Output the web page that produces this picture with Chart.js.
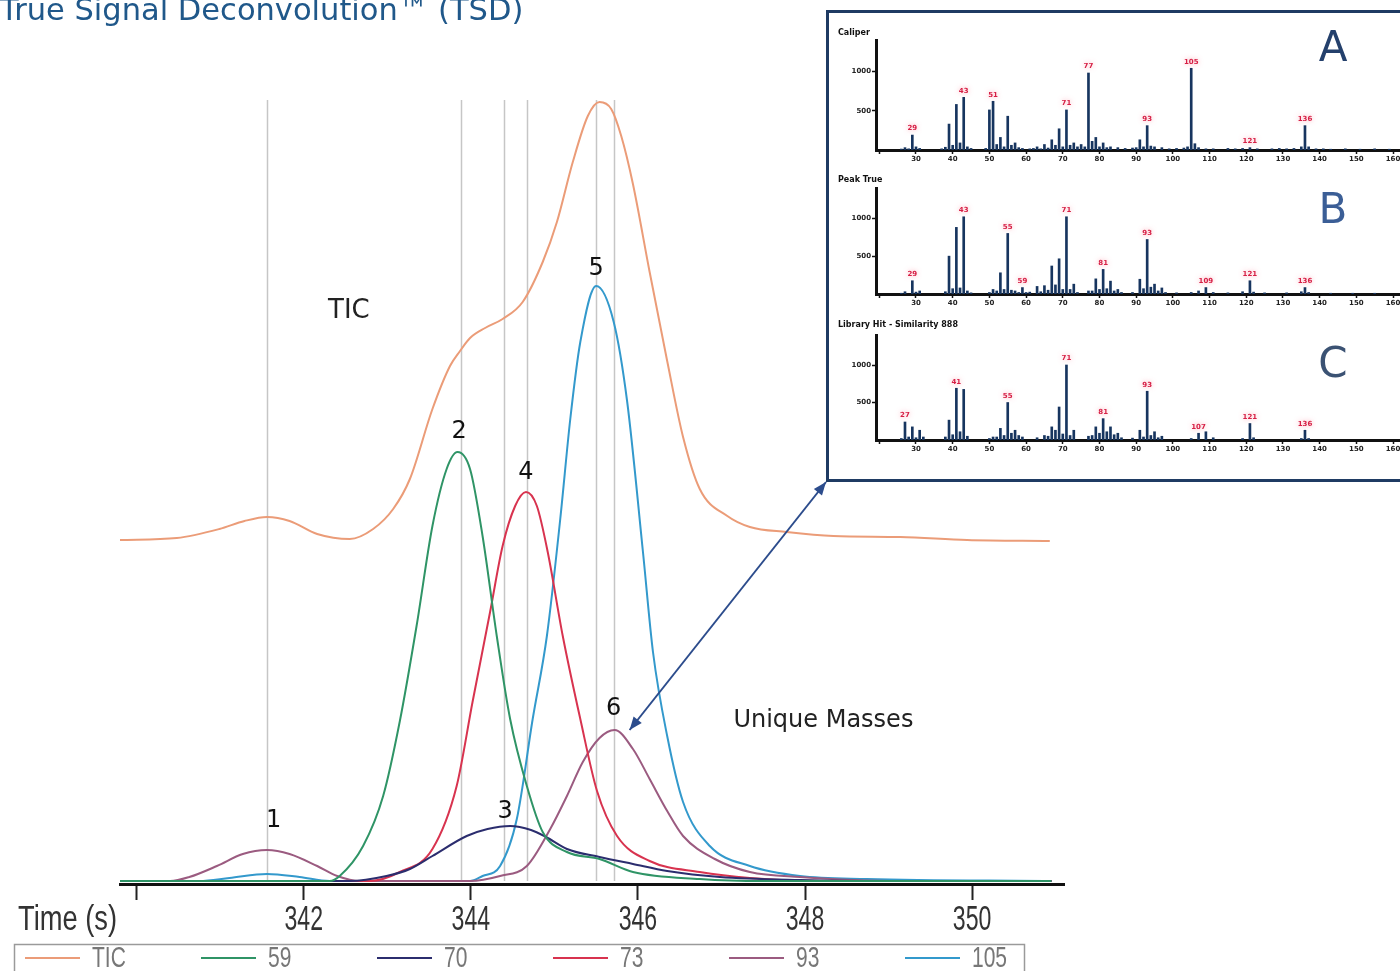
<!DOCTYPE html>
<html>
<head>
<meta charset="utf-8">
<script src="https://cdn.jsdelivr.net/npm/chart.js@4.4.0/dist/chart.umd.min.js"></script>
<style>
  html, body { margin: 0; padding: 0; background: #fff; overflow: hidden; width: 1400px; height: 971px; }
  #main { position: absolute; left: 0; top: 0; }
  #inset { position: absolute; left: 826px; top: 10px; width: 620px; height: 466px; border: 3px solid #1f3b63; background: #fff; z-index: 2; }
  #inset canvas { position: absolute; left: 0; }
</style>
</head>
<body>
<canvas id="main" width="1400" height="971"></canvas>
<div id="inset">
  <canvas id="specA" width="600" height="145" style="top:9px"></canvas>
  <canvas id="specB" width="600" height="141" style="top:157px"></canvas>
  <canvas id="specC" width="600" height="140" style="top:304px"></canvas>
</div>
<script>
// ---- main chromatogram: [time (s), intensity] ----
const seriesNames = ['TIC', '59', '70', '73', '93', '105'];
const seriesColors = ['#eb9c78', '#2f9466', '#2b2d6e', '#d8334f', '#9b5b80', '#3399cc'];

const ticSeries = [[339.80,341],[340.48,343],[340.99,352],[341.29,360],[341.56,364],[341.83,360],[342.16,347],[342.55,342],[342.83,352],[343.07,372],[343.27,402],[343.54,472],[343.75,515],[343.87,530],[343.99,543],[344.17,553],[344.38,562],[344.62,579],[344.86,619],[345.03,659],[345.22,719],[345.40,765],[345.54,779],[345.68,772],[345.80,745],[345.94,697],[346.14,609],[346.35,520],[346.54,444],[346.74,392],[347.07,365],[347.34,354],[347.78,349],[348.34,345],[349.14,344],[349.94,341],[350.93,340]];
const mass59 = [[339.80,0],[342.31,0],[342.43,5],[342.71,35],[342.95,85],[343.15,160],[343.35,255],[343.54,355],[343.71,412],[343.84,429],[343.99,412],[344.14,345],[344.31,245],[344.47,162],[344.67,95],[344.86,49],[345.15,29],[345.54,22],[345.94,9],[346.74,2],[347.50,0],[350.95,0]];
const mass70 = [[339.80,0],[342.55,0],[342.99,5],[343.27,12],[343.54,25],[343.95,45],[344.20,52],[344.47,55],[344.72,51],[344.90,44],[345.15,32],[345.54,24],[345.94,17],[346.35,10],[346.98,4],[347.94,1],[349.00,0],[350.95,0]];
const mass73 = [[339.80,0],[342.79,0],[343.15,9],[343.54,32],[343.83,95],[344.02,179],[344.23,269],[344.38,335],[344.53,375],[344.66,389],[344.79,375],[344.92,329],[345.10,245],[345.31,162],[345.51,90],[345.75,45],[346.14,20],[346.74,9],[347.34,3],[348.18,0],[350.95,0]];
const mass93 = [[339.80,0],[340.40,0],[340.63,4],[340.96,15],[341.27,27],[341.56,31],[341.83,27],[342.16,15],[342.40,5],[342.67,0],[343.99,0],[344.35,5],[344.67,15],[344.95,52],[345.15,85],[345.34,119],[345.54,143],[345.72,151],[345.94,132],[346.14,102],[346.35,70],[346.54,45],[346.92,22],[347.34,9],[347.94,4],[349.14,0],[350.95,0]];
const mass105 = [[339.80,0],[340.75,0],[341.11,3],[341.56,7],[341.95,4],[342.31,0],[343.99,0],[344.14,5],[344.35,15],[344.55,62],[344.74,162],[344.91,245],[345.07,362],[345.19,462],[345.31,539],[345.50,595],[345.71,559],[345.87,480],[346.06,329],[346.18,229],[346.35,145],[346.54,79],[346.86,35],[347.34,15],[347.94,5],[348.74,2],[350.93,0]];

const timeTickLabels = { 340: '', 342: '342', 344: '344', 346: '346', 348: '348', 350: '350' };
const peakTimes = [341.56, 343.88, 344.40, 344.67, 345.50, 345.71];
const peakNumbers = ['1', '2', '3', '4', '5', '6'];
const peakNumberAt = [[341.64,60],[343.86,449],[344.41,69],[344.66,408],[345.50,612],[345.71,172]];
const arrowFrom = [345.90, 151];

// ---- inset mass spectra: [m/z, intensity] ----
const specYTicks = [500, 1000];
const caliperPeaks = [[26,12],[27,30],[28,15],[29,190],[30,40],[31,20],[37,15],[38,35],[39,330],[40,60],[41,580],[42,90],[43,670],[44,40],[45,20],[49,20],[50,510],[51,620],[52,70],[53,160],[54,40],[55,430],[56,60],[57,90],[58,30],[59,20],[61,15],[62,20],[63,40],[64,15],[65,70],[66,25],[67,130],[68,60],[69,270],[70,40],[71,510],[72,60],[73,90],[74,40],[75,70],[76,40],[77,980],[78,110],[79,160],[80,40],[81,90],[82,30],[83,40],[85,30],[87,20],[89,25],[90,30],[91,130],[92,40],[93,310],[94,50],[95,40],[97,30],[99,15],[101,20],[103,25],[104,40],[105,1040],[106,80],[107,30],[109,15],[111,15],[115,20],[117,15],[119,20],[121,30],[123,15],[127,15],[129,20],[131,15],[133,20],[135,40],[136,310],[137,40],[139,15],[141,15],[143,10],[147,15],[151,10],[155,15],[159,10],[163,10]];
const peakTruePeaks = [[26,10],[27,30],[29,175],[30,25],[31,40],[38,30],[39,500],[40,70],[41,880],[42,80],[43,1020],[44,40],[45,15],[50,20],[51,60],[52,40],[53,280],[54,60],[55,800],[56,50],[57,40],[58,20],[59,85],[60,20],[61,25],[63,100],[64,30],[65,110],[66,50],[67,370],[68,120],[69,465],[70,60],[71,1020],[72,60],[73,130],[74,20],[77,40],[78,40],[79,200],[80,60],[81,325],[82,70],[83,170],[84,40],[85,60],[86,20],[89,20],[91,195],[92,70],[93,720],[94,90],[95,130],[96,40],[97,80],[98,20],[101,15],[105,20],[107,40],[109,85],[111,20],[115,15],[119,30],[121,175],[122,25],[125,15],[131,15],[135,30],[136,85],[137,20],[143,10],[149,10],[155,10]];
const libraryPeaks = [[26,20],[27,240],[28,40],[29,175],[30,30],[31,130],[32,40],[38,40],[39,265],[40,70],[41,690],[42,110],[43,675],[44,50],[50,20],[51,40],[52,40],[53,155],[54,60],[55,500],[56,90],[57,130],[58,60],[59,40],[63,30],[65,60],[66,50],[67,175],[68,130],[69,440],[70,80],[71,1000],[72,60],[73,130],[77,50],[78,60],[79,175],[80,90],[81,285],[82,110],[83,175],[84,70],[85,90],[86,30],[89,25],[91,130],[92,40],[93,650],[94,60],[95,110],[96,30],[97,50],[105,20],[107,90],[109,110],[111,30],[119,20],[121,220],[122,30],[135,20],[136,130],[137,20]];
const caliperLabels = [29, 43, 51, 71, 77, 93, 105, 121, 136];
const peakTrueLabels = [29, 43, 55, 59, 71, 81, 93, 109, 121, 136];
const libraryLabels = [27, 41, 55, 71, 81, 93, 107, 121, 136];

function narrowText(ctx, text, x, y, sx, align) {
    ctx.save();
    ctx.translate(x, y);
    ctx.scale(sx, 1);
    ctx.textAlign = align;
    ctx.fillText(text, 0, 0);
    ctx.restore();
}

function arrowHead(ctx, fx, fy, tx, ty) {
    const a = Math.atan2(ty - fy, tx - fx);
    ctx.beginPath();
    ctx.moveTo(tx, ty);
    ctx.lineTo(tx - 14 * Math.cos(a - 0.38), ty - 14 * Math.sin(a - 0.38));
    ctx.lineTo(tx - 14 * Math.cos(a + 0.38), ty - 14 * Math.sin(a + 0.38));
    ctx.closePath();
    ctx.fill();
}

const allSeries = [ticSeries, mass59, mass70, mass73, mass93, mass105];

const mainDecor = {
    id: 'mainDecor',
    beforeDatasetsDraw(chart) {
        const { ctx, scales: { x, y }, chartArea } = chart;
        ctx.save();
        ctx.strokeStyle = '#c6c6c6';
        ctx.lineWidth = 1.5;
        peakTimes.forEach(t => {
            const px = Math.round(x.getPixelForValue(t)) + 0.5;
            ctx.beginPath();
            ctx.moveTo(px, chartArea.top);
            ctx.lineTo(px, y.getPixelForValue(0));
            ctx.stroke();
        });
        ctx.restore();
    },
    afterDraw(chart) {
        const { ctx, scales: { x, y } } = chart;
        ctx.save();

        // title (clipped at the top edge, as in the source)
        ctx.fillStyle = '#20588a';
        ctx.font = '30.5px "DejaVu Sans", sans-serif';
        ctx.textBaseline = 'alphabetic';
        ctx.textAlign = 'left';
        ctx.fillText('True Signal Deconvolution\u2122 (TSD)', 0, 20);

        // peak numbers
        ctx.fillStyle = '#111';
        ctx.font = '24px "DejaVu Sans", sans-serif';
        ctx.textBaseline = 'middle';
        ctx.textAlign = 'center';
        peakNumbers.forEach((n, i) => {
            ctx.fillText(n, x.getPixelForValue(peakNumberAt[i][0]), y.getPixelForValue(peakNumberAt[i][1]));
        });
        ctx.fillStyle = '#222';
        ctx.font = '26px "DejaVu Sans", sans-serif';
        ctx.fillText('TIC', x.getPixelForValue(342.54), y.getPixelForValue(570));
        ctx.font = '24px "DejaVu Sans", sans-serif';
        ctx.fillText('Unique Masses', x.getPixelForValue(348.22), y.getPixelForValue(160));

        // axis tick labels
        ctx.fillStyle = '#333';
        ctx.font = '35px "Liberation Sans", sans-serif';
        x.ticks.forEach(t => {
            const lbl = timeTickLabels[t.value];
            if (lbl) narrowText(ctx, lbl, x.getPixelForValue(t.value), 920, 0.66, 'center');
        });
        narrowText(ctx, 'Time (s)', 18, 920, 0.78, 'left');

        // legend
        ctx.strokeStyle = '#9a9a9a';
        ctx.lineWidth = 1.5;
        ctx.strokeRect(14.5, 944.5, 1010, 40);
        ctx.font = '30px "Liberation Sans", sans-serif';
        seriesNames.forEach((name, i) => {
            const x0 = 25 + i * 176;
            ctx.strokeStyle = seriesColors[i];
            ctx.lineWidth = 2;
            ctx.beginPath();
            ctx.moveTo(x0, 958);
            ctx.lineTo(x0 + 55, 958);
            ctx.stroke();
            ctx.fillStyle = '#777';
            narrowText(ctx, name, x0 + 67, 959, 0.7, 'left');
        });

        // arrow to the inset
        const box = document.getElementById('inset').getBoundingClientRect();
        const ax = x.getPixelForValue(arrowFrom[0]), ay = y.getPixelForValue(arrowFrom[1]);
        const bx = box.left, by = box.bottom;
        ctx.strokeStyle = '#2c4c8c';
        ctx.fillStyle = '#2c4c8c';
        ctx.lineWidth = 2;
        ctx.beginPath();
        ctx.moveTo(ax, ay);
        ctx.lineTo(bx, by);
        ctx.stroke();
        arrowHead(ctx, bx, by, ax, ay);
        arrowHead(ctx, ax, ay, bx, by);
        ctx.restore();
    }
};

new Chart(document.getElementById('main').getContext('2d'), {
    type: 'line',
    data: {
        datasets: seriesNames.map((name, i) => ({
            label: name,
            data: allSeries[i].map(p => ({ x: p[0], y: p[1] })),
            borderColor: seriesColors[i],
            borderWidth: 2,
            pointRadius: 0,
            fill: false,
            cubicInterpolationMode: 'monotone'
        }))
    },
    options: {
        responsive: false,
        animation: false,
        layout: { padding: { left: 120, right: 336, top: 100, bottom: 0 } },
        plugins: { legend: { display: false }, tooltip: { enabled: false } },
        scales: {
            x: {
                type: 'linear', min: 339.8, max: 351.1,
                grid: { drawOnChartArea: false, tickLength: 16, tickColor: '#222', tickWidth: 2 },
                border: { color: '#111', width: 3 },
                ticks: { stepSize: 2, includeBounds: false, display: false },
                afterFit(s) { s.height = 87; }
            },
            y: { display: false, min: -3, max: 781 }
        }
    },
    plugins: [mainDecor]
});

function makeSpectrum(id, peaks, marked, title, titleY, letter, letterY, letterColor) {
    const specText = {
        id: 'specText',
        afterDraw(chart) {
            const { ctx, scales: { x, y } } = chart;
            ctx.save();
            ctx.fillStyle = '#111';
            ctx.font = 'bold 8px "DejaVu Sans", sans-serif';
            ctx.textAlign = 'left';
            ctx.textBaseline = 'middle';
            ctx.fillText(title, 9, titleY);

            ctx.fillStyle = letterColor;
            ctx.font = '42px "DejaVu Sans", sans-serif';
            ctx.textAlign = 'center';
            ctx.fillText(letter, 504, letterY);

            ctx.font = 'bold 7px "DejaVu Sans", sans-serif';
            ctx.textBaseline = 'bottom';
            ctx.fillStyle = '#d61f45';
            ctx.shadowColor = 'rgba(255,120,140,0.7)';
            ctx.shadowBlur = 5;
            marked.forEach(m => {
                const p = peaks.find(q => q[0] === m);
                if (!p) return;
                ctx.fillText(String(m), x.getPixelForValue(m), y.getPixelForValue(p[1]) - 3);
            });
            ctx.restore();
        }
    };
    new Chart(document.getElementById(id).getContext('2d'), {
        type: 'bar',
        data: {
            datasets: [{
                data: peaks.map(p => ({ x: p[0], y: p[1] })),
                backgroundColor: '#17355f',
                barThickness: 2
            }]
        },
        options: {
            responsive: false,
            animation: false,
            layout: { padding: { top: 18, left: 0, right: 0, bottom: 0 } },
            plugins: { legend: { display: false }, tooltip: { enabled: false } },
            scales: {
                x: {
                    type: 'linear', min: 19.1, max: 169.8, offset: false,
                    grid: { drawOnChartArea: false, offset: false, tickLength: 4, tickColor: '#111', tickWidth: 1.5 },
                    border: { color: '#111', width: 3 },
                    ticks: {
                        stepSize: 10, includeBounds: false, autoSkip: false, maxRotation: 0, padding: 1,
                        color: '#222', font: { size: 7, weight: 'bold', family: 'DejaVu Sans' },
                        callback: v => (v >= 30 ? String(v) : '')
                    },
                    afterFit(s) { s.height = 17; }
                },
                y: {
                    min: 0, max: 1400,
                    grid: { drawOnChartArea: false, tickLength: 4, tickColor: '#111', tickWidth: 1.5 },
                    border: { color: '#111', width: 3 },
                    ticks: {
                        padding: 1,
                        color: '#222', font: { size: 7, weight: 'bold', family: 'DejaVu Sans' },
                        callback: v => String(v)
                    },
                    afterBuildTicks(s) { s.ticks = specYTicks.map(v => ({ value: v })); },
                    afterFit(s) { s.width = 47; }
                }
            }
        },
        plugins: [specText]
    });
}

makeSpectrum('specA', caliperPeaks, caliperLabels, 'Caliper', 11, 'A', 28, '#24406c');
makeSpectrum('specB', peakTruePeaks, peakTrueLabels, 'Peak True', 10, 'B', 42, '#3b5e96');
makeSpectrum('specC', libraryPeaks, libraryLabels, 'Library Hit - Similarity 888', 8, 'C', 49, '#3b5273');
</script>
</body>
</html>
